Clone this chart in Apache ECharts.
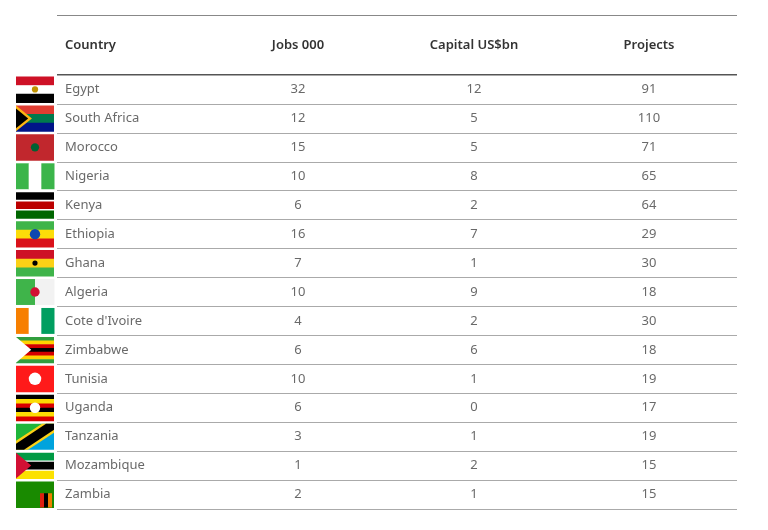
<!DOCTYPE html>
<html>
<head>
<meta charset="utf-8">
<script src="https://cdn.jsdelivr.net/npm/echarts@6/dist/echarts.min.js"></script>
<style>html,body{margin:0;background:#fff}#main{width:768px;height:530px}</style>
</head>
<body>
<div id="main"></div>
<script>
// table data
var countries = ['Egypt','South Africa','Morocco','Nigeria','Kenya','Ethiopia','Ghana','Algeria',
  "Cote d'Ivoire",'Zimbabwe','Tunisia','Uganda','Tanzania','Mozambique','Zambia'];
var jobs = [32,12,15,10,6,16,7,10,4,6,10,6,3,1,2];
var capital = [12,5,5,8,2,7,1,9,2,6,1,0,1,2,1];
var projects = [91,110,71,65,64,29,30,18,30,18,19,17,19,15,15];
var headers = ['Country','Jobs 000','Capital US$bn','Projects'];

// layout (pixel-ish x positions on the hidden x axis)
var colX = [65, 298, 474, 649];
var flagX = 16, flagW = 38;

// flag descriptions: stripes + optional extras
var flags = [
  {h:['#ce1126','#ffffff','#000000'], dot:'#c09300', ds:0.12},
  {h:['#e03c31','#007a4d','#001489'], tri:'#000000', tri2:'#ffb612'},
  {h:['#c1272d'], dot:'#006233', ds:0.16},
  {v:['#3bb54a','#ffffff','#3bb54a']},
  {h:['#000000','#ffffff','#bb0000','#ffffff','#006600'], hw:[3,0.6,3,0.6,3], dot:'#bb0000', ds:0.1},
  {h:['#3fb44a','#fcdd09','#da121a'], dot:'#0f47af', ds:0.2},
  {h:['#ce1126','#fcd116','#3fb44a'], dot:'#000000', ds:0.1},
  {v:['#3fb44a','#f2f2f2'], dot:'#d21034', ds:0.18},
  {v:['#f77f00','#ffffff','#009e60']},
  {h:['#319e3e','#ffd200','#d40000','#000000','#d40000','#ffd200','#319e3e'], tri:'#ffffff'},
  {h:['#ff1a1a'], dot:'#ffffff', ds:0.24},
  {h:['#000000','#fcdc04','#d90000','#000000','#fcdc04','#d90000'], dot:'#ffffff', ds:0.2},
  {diag:true},
  {h:['#009a44','#ffffff','#000000','#ffffff','#fce100'], hw:[3,0.4,3,0.4,3], tri:'#d21034'},
  {h:['#198a00'], corner:['#de2010','#000000','#ef7d00']}
];

function flagItem(params, api) {
  var i = api.value(1);
  var p = api.coord([flagX, i]);
  var bh = api.size([0, 1])[1];
  var h = bh - 3, w = flagW;
  var x0 = flagX, y0 = p[1] - h / 2;
  var f = flags[i];
  var kids = [];
  function rect(x, y, ww, hh, c) { kids.push({type:'rect', shape:{x:x,y:y,width:ww,height:hh}, style:{fill:c}}); }
  if (f.h) {
    var wts = f.hw || f.h.map(function(){return 1;});
    var tot = wts.reduce(function(a,b){return a+b;},0), yy = y0;
    f.h.forEach(function(c,k){ var hh = h*wts[k]/tot; rect(x0, yy, w, hh+0.5, c); yy += hh; });
  }
  if (f.v) {
    var ww = w / f.v.length;
    f.v.forEach(function(c,k){ rect(x0 + k*ww, y0, ww+0.5, h, c); });
  }
  if (f.diag) {
    kids.push({type:'polygon', shape:{points:[[x0,y0],[x0+w,y0],[x0,y0+h]]}, style:{fill:'#1eb53a'}});
    kids.push({type:'polygon', shape:{points:[[x0+w,y0],[x0+w,y0+h],[x0,y0+h]]}, style:{fill:'#00a3dd'}});
    kids.push({type:'polygon', shape:{points:[[x0,y0+h-9],[x0+w-12,y0],[x0+w,y0],[x0+w,y0+9],[x0+12,y0+h],[x0,y0+h]]}, style:{fill:'#fcd116'}});
    kids.push({type:'polygon', shape:{points:[[x0,y0+h-6],[x0+w-8,y0],[x0+w,y0],[x0+w,y0+6],[x0+8,y0+h],[x0,y0+h]]}, style:{fill:'#000'}});
  }
  if (f.tri2) kids.push({type:'polygon', shape:{points:[[x0,y0],[x0+w*0.42,y0+h/2],[x0,y0+h]]}, style:{fill:f.tri2}});
  if (f.tri) kids.push({type:'polygon', shape:{points:[[x0,y0+(f.tri2?3:0)],[x0+w*(f.tri2?0.32:0.4),y0+h/2],[x0,y0+h-(f.tri2?3:0)]]}, style:{fill:f.tri}});
  if (f.dot) kids.push({type:'circle', shape:{cx:x0+w/2, cy:y0+h/2, r:h*f.ds}, style:{fill:f.dot}});
  if (f.corner) {
    var cw = 4;
    f.corner.forEach(function(c,k){ rect(x0 + w - 3*cw - 2 + k*cw, y0 + h*0.45, cw, h*0.55, c); });
  }
  return {type:'group', children:kids};
}

function textSeries(col, values, align) {
  return {
    type:'scatter', symbolSize:0, silent:true,
    data: countries.map(function(c,i){ return [colX[col], i, values[i]]; }),
    label:{show:true, position:'inside', align:align, color:'#444', fontSize:13,
      fontFamily:'Noto Sans', formatter:function(p){ return p.value[2]; }}
  };
}

var option = {
  backgroundColor:'#fff',
  animation:false,
  grid:{left:57, right:31, top:75, bottom:21},
  xAxis:{type:'value', min:57, max:737, show:false},
  yAxis:{type:'category', inverse:true, data:countries.map(function(c,i){return i;}),
    axisLabel:{show:false}, axisTick:{show:false},
    axisLine:{show:false},
    splitLine:{show:true, interval:0, lineStyle:{color:'#aaa', width:1}}},
  graphic:[
    {type:'line', shape:{x1:57,y1:15.5,x2:737,y2:15.5}, style:{stroke:'#888',lineWidth:1}},
    {type:'line', shape:{x1:57,y1:74.5,x2:737,y2:74.5}, style:{stroke:'#555',lineWidth:1}},
    {type:'line', shape:{x1:57,y1:509.5,x2:737,y2:509.5}, style:{stroke:'#aaa',lineWidth:1}}
  ].concat(headers.map(function(t,k){
    return {type:'text', x:colX[k], y:45, style:{text:t, fill:'#333', font:'600 13px "Noto Sans"',
      align:k===0?'left':'center', verticalAlign:'middle'}};
  })),
  series:[
    {type:'custom', renderItem:flagItem, clip:false, silent:true,
      data: countries.map(function(c,i){ return [flagX, i]; })},
    {type:'scatter', symbolSize:0, silent:true,
      data: countries.map(function(c,i){ return [colX[0], i, c]; }),
      label:{show:true, position:'inside', align:'left', color:'#444', fontSize:13,
        fontFamily:'Noto Sans', formatter:function(p){ return p.value[2]; }}},
    textSeries(1, jobs, 'center'),
    textSeries(2, capital, 'center'),
    textSeries(3, projects, 'center')
  ]
};
var myChart = echarts.init(document.getElementById('main'));
myChart.setOption(option);
</script>
</body>
</html>
